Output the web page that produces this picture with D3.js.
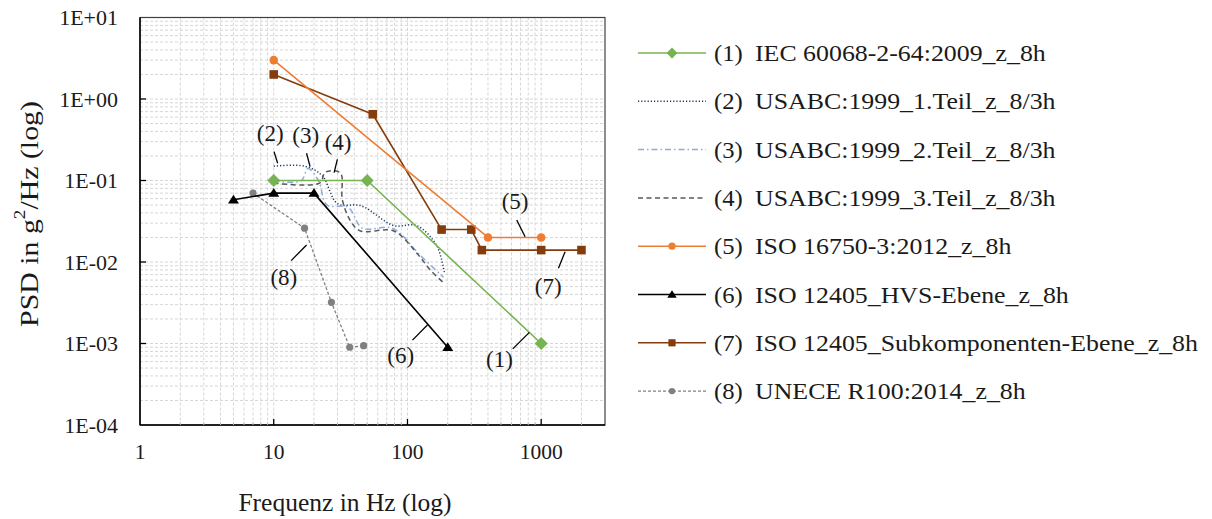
<!DOCTYPE html>
<html>
<head>
<meta charset="utf-8">
<script src="https://cdn.jsdelivr.net/npm/d3@7"></script>
<style>
  body { margin: 0; background: #fff; }
  text { font-family: "Liberation Serif", "DejaVu Serif", serif; fill: #1a1a1a; }
</style>
</head>
<body>
<svg id="chart" width="1212" height="519"></svg>
<script>
// Values: [frequency in Hz, PSD in g^2/Hz]
const iec = [[10, 0.1], [50, 0.1], [1000, 0.001]];
const usabc1 = [[10, 0.15], [17, 0.15], [23, 0.115], [30, 0.052], [45, 0.049], [79, 0.028], [117, 0.028], [165, 0.016], [189, 0.0073]];
const usabc2 = [[10, 0.099], [16, 0.099], [18, 0.14], [21.6, 0.1], [25, 0.05], [36, 0.047], [46, 0.026], [77, 0.026], [125, 0.012], [186, 0.0065]];
const usabc3 = [[10, 0.093], [22, 0.093], [24.4, 0.127], [31.5, 0.124], [32.6, 0.058], [37.5, 0.032], [44.5, 0.024], [79, 0.024], [119, 0.0125], [148, 0.008], [183, 0.0057]];
const iso16750 = [[10, 3], [400, 0.02], [1000, 0.02]];
const isoHvs = [[5, 0.058], [10, 0.07], [20, 0.07], [200, 0.0009]];
const isoSub = [[10, 2], [55, 0.65], [180, 0.025], [300, 0.025], [360, 0.014], [1000, 0.014], [2000, 0.014]];
const unece = [[7, 0.07], [17, 0.026], [27, 0.0032], [37, 0.0009], [47, 0.00094]];

const seriesLabels = [
  "IEC 60068-2-64:2009_z_8h",
  "USABC:1999_1.Teil_z_8/3h",
  "USABC:1999_2.Teil_z_8/3h",
  "USABC:1999_3.Teil_z_8/3h",
  "ISO 16750-3:2012_z_8h",
  "ISO 12405_HVS-Ebene_z_8h",
  "ISO 12405_Subkomponenten-Ebene_z_8h",
  "UNECE R100:2014_z_8h"
];

const xTicks = [1, 10, 100, 1000];
const yTicks = [1e1, 1e0, 1e-1, 1e-2, 1e-3, 1e-4];
const yTickLabels = ["1E+01", "1E+00", "1E-01", "1E-02", "1E-03", "1E-04"];

// callouts in data units: text spot, then the leader line (curve end -> label end)
const callouts = [
  { text: "(2)", at: [9.4, 0.38], from: [10.7, 0.163], to: [10.05, 0.226] },
  { text: "(3)", at: [17.35, 0.36], from: [18.7, 0.148], to: [17.6, 0.216] },
  { text: "(4)", at: [30.3, 0.29], from: [28.3, 0.125], to: [29.9, 0.182] },
  { text: "(5)", at: [638, 0.055], from: [758, 0.0204], to: [656, 0.0328] },
  { text: "(7)", at: [1127, 0.005], from: [1510, 0.0134], to: [1345, 0.0084] },
  { text: "(8)", at: [11.9, 0.0064], from: [17.6, 0.0162], to: [13.5, 0.0104] },
  { text: "(6)", at: [89, 0.00072], from: [141, 0.00169], to: [109, 0.0011] },
  { text: "(1)", at: [487, 0.00064], from: [816, 0.00137], to: [613, 0.00086] }
];

// Layout ------------------------------------------
const svg = d3.select("#chart");
const plot = { left: 140, right: 605, top: 17.5, bottom: 425 };

const x = d3.scaleLog().domain([1, 3000]).range([plot.left, plot.right]);
const y = d3.scaleLog().domain([1e-4, 10]).range([plot.bottom, plot.top]);

// Series styles (order = legend order)
const series = [
  { data: iec, color: "#76b451", dash: null, marker: "diamond", width: 1.6 },
  { data: usabc1, color: "#203864", dash: "1.2,2", marker: null, width: 1.5, smooth: true },
  { data: usabc2, color: "#8eaadb", dash: "6,3,1.5,3", marker: null, width: 1.5, smooth: true },
  { data: usabc3, color: "#595959", dash: "5,3.5", marker: null, width: 1.5, smooth: true },
  { data: iso16750, color: "#ed7d31", dash: null, marker: "circle", width: 1.6 },
  { data: isoHvs, color: "#000000", dash: null, marker: "triangle", width: 1.6 },
  { data: isoSub, color: "#843c0c", dash: null, marker: "square", width: 1.6 },
  { data: unece, color: "#808080", dash: "3,2", marker: "dot", width: 1.3 }
];

// Liberation Serif is narrower than the Garamond of the original,
// so stretch some texts a bit to the original's widths
function stretch(sel, factor) {
  sel.each(function() {
    const w = this.getComputedTextLength();
    d3.select(this).attr("textLength", w * factor).attr("lengthAdjust", "spacingAndGlyphs");
  });
}

// Grid (minor + major, all dashed light gray)
const xGrid = [];
for (let d = 1; d <= 1000; d *= 10) {
  for (let k = 1; k <= 9; k++) {
    const v = k * d;
    if (v > 1 && v < 3000) xGrid.push(v);
  }
}
const yGrid = [];
for (let d = 1e-4; d < 10; d *= 10) {
  for (let k = 1; k <= 9; k++) {
    const v = k * d;
    if (v > 1.01e-4 && v < 9.99) yGrid.push(v);
  }
}

const grid = svg.append("g").attr("class", "grid");
grid.selectAll(".gx").data(xGrid).join("line")
  .attr("x1", d => x(d)).attr("x2", d => x(d))
  .attr("y1", plot.top).attr("y2", plot.bottom)
  .attr("stroke", "#d6d6d6").attr("stroke-width", 1)
  .attr("stroke-dasharray", "3,2");
grid.selectAll(".gy").data(yGrid).join("line")
  .attr("x1", plot.left).attr("x2", plot.right)
  .attr("y1", d => y(d)).attr("y2", d => y(d))
  .attr("stroke", "#d6d6d6").attr("stroke-width", 1)
  .attr("stroke-dasharray", "3,2");

// Frame + axes
svg.append("rect")
  .attr("x", plot.left).attr("y", plot.top)
  .attr("width", plot.right - plot.left).attr("height", plot.bottom - plot.top)
  .attr("fill", "none").attr("stroke", "#404040").attr("stroke-width", 1.2);

const axes = svg.append("g").attr("class", "axes");
axes.append("line")
  .attr("x1", plot.left).attr("x2", plot.right)
  .attr("y1", plot.bottom).attr("y2", plot.bottom)
  .attr("stroke", "#000").attr("stroke-width", 1.5);
axes.append("line")
  .attr("x1", plot.left).attr("x2", plot.left)
  .attr("y1", plot.top).attr("y2", plot.bottom)
  .attr("stroke", "#000").attr("stroke-width", 1.5);

// tick marks point inwards, like the original
axes.selectAll(".tx").data(xTicks.slice(1)).join("line")
  .attr("x1", d => x(d)).attr("x2", d => x(d))
  .attr("y1", plot.bottom).attr("y2", plot.bottom - 6)
  .attr("stroke", "#000").attr("stroke-width", 1.3);
axes.selectAll(".mtx").data(xGrid.filter(v => !xTicks.includes(v))).join("line")
  .attr("x1", d => x(d)).attr("x2", d => x(d))
  .attr("y1", plot.bottom).attr("y2", plot.bottom - 3)
  .attr("stroke", "#bfbfbf").attr("stroke-width", 1);
axes.selectAll(".ty").data(yTicks.slice(1, -1)).join("line")
  .attr("x1", plot.left).attr("x2", plot.left + 6)
  .attr("y1", d => y(d)).attr("y2", d => y(d))
  .attr("stroke", "#000").attr("stroke-width", 1.3);

// Tick labels
svg.append("g").selectAll("text").data(xTicks).join("text")
  .attr("x", d => x(d)).attr("y", 452)
  .attr("text-anchor", "middle").attr("dominant-baseline", "central")
  .attr("font-size", 21.5)
  .text(d => d);

svg.append("g").selectAll("text").data(yTicks).join("text")
  .attr("x", 118).attr("y", d => y(d))
  .attr("text-anchor", "end").attr("dominant-baseline", "central")
  .attr("font-size", 22)
  .text((d, i) => yTickLabels[i]);

// Axis titles
const xTitle = svg.append("text")
  .attr("x", 345).attr("y", 502)
  .attr("text-anchor", "middle").attr("dominant-baseline", "central")
  .attr("font-size", 25)
  .text("Frequenz in Hz (log)");
stretch(xTitle, 1.02);

const yTitle = svg.append("text")
  .attr("text-anchor", "middle").attr("dominant-baseline", "central")
  .attr("font-size", 25);
yTitle.append("tspan").text("PSD in g");
yTitle.append("tspan").attr("dy", -9).attr("font-size", 16).text("2");
yTitle.append("tspan").attr("dy", 9).text("/Hz (log)");
// stretch along the text direction to the original length (~226px)
const yTitleLen = yTitle.node().getComputedTextLength();
yTitle.attr("transform", `translate(29,214) rotate(-90) scale(${226 / yTitleLen},1)`);

// Marker drawing helper (own shapes so the diamond is a turned square like Excel)
function drawMarker(sel, kind, color, s) {
  if (kind === "diamond") {
    sel.append("path").attr("d", `M0,${-s}L${s},0L0,${s}L${-s},0Z`).attr("fill", color);
  } else if (kind === "circle" || kind === "dot") {
    sel.append("circle").attr("r", s).attr("fill", color);
  } else if (kind === "square") {
    sel.append("rect").attr("x", -s).attr("y", -s).attr("width", 2 * s).attr("height", 2 * s).attr("fill", color);
  } else if (kind === "triangle") {
    sel.append("path").attr("d", `M0,${-s}L${s * 1.1},${s * 0.75}L${-s * 1.1},${s * 0.75}Z`).attr("fill", color);
  }
}
const markerSize = { diamond: 6.5, circle: 4.3, square: 4.3, triangle: 5, dot: 3.6 };
const legendMarkerSize = { diamond: 5.5, circle: 3.6, square: 3.6, triangle: 4.3, dot: 3.2 };

// Lines ---------------------------------------------
const lines = svg.append("g").attr("class", "lines");
// draw back to front so the solid series sit over the USABC ones
const drawOrder = [7, 1, 2, 3, 6, 4, 0, 5];
drawOrder.forEach(i => {
  const s = series[i];
  const line = d3.line()
    .x(d => x(d[0]))
    .y(d => y(d[1]))
    .curve(s.smooth ? d3.curveCatmullRom.alpha(0.5) : d3.curveLinear);

  lines.append("path")
    .attr("d", line(s.data))
    .attr("fill", "none")
    .attr("stroke", s.color)
    .attr("stroke-width", s.width)
    .attr("stroke-dasharray", s.dash)
    .attr("stroke-linejoin", "round");

  if (s.marker) {
    s.data.forEach(d => {
      const m = lines.append("g").attr("transform", `translate(${x(d[0])},${y(d[1])})`);
      drawMarker(m, s.marker, s.color, markerSize[s.marker]);
    });
  }
});

// Callouts
const notes = svg.append("g").attr("class", "callouts");
callouts.forEach(c => {
  notes.append("line")
    .attr("x1", x(c.from[0])).attr("y1", y(c.from[1]))
    .attr("x2", x(c.to[0])).attr("y2", y(c.to[1]))
    .attr("stroke", "#000").attr("stroke-width", 1.3);
  notes.append("text")
    .attr("x", x(c.at[0])).attr("y", y(c.at[1]))
    .attr("text-anchor", "middle").attr("dominant-baseline", "central")
    .attr("font-size", 23)
    .text(c.text);
});

// Legend --------------------------------------------
const legend = svg.append("g").attr("class", "legend");
series.forEach((s, i) => {
  const row = legend.append("g").attr("transform", `translate(0, ${53 + i * 48.3})`);
  row.append("line")
    .attr("x1", 638).attr("x2", 706)
    .attr("stroke", s.color)
    .attr("stroke-width", s.width)
    .attr("stroke-dasharray", s.dash);
  if (s.marker) {
    const m = row.append("g").attr("transform", "translate(672,0)");
    drawMarker(m, s.marker, s.color, legendMarkerSize[s.marker]);
  }
  const num = row.append("text")
    .attr("x", 714).attr("y", 0)
    .attr("dominant-baseline", "central")
    .attr("font-size", 23.5)
    .text(`(${i + 1})`);
  stretch(num, 1.05);
  const lab = row.append("text")
    .attr("x", 755).attr("y", 0)
    .attr("dominant-baseline", "central")
    .attr("font-size", 23.5)
    .text(seriesLabels[i]);
  stretch(lab, 1.1);
});
</script>
</body>
</html>
